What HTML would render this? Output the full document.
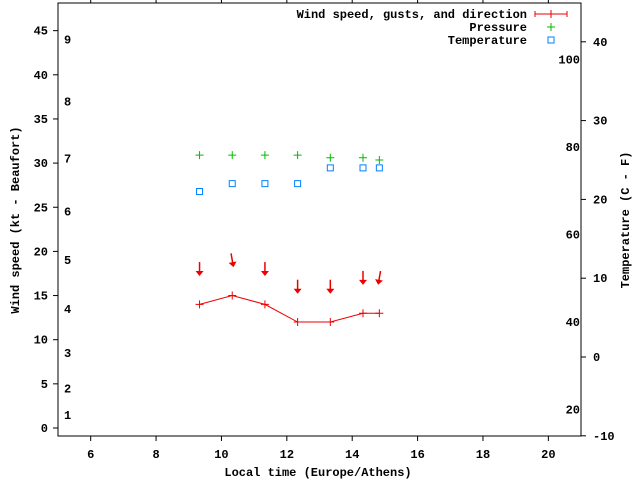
<!DOCTYPE html>
<html><head><meta charset="utf-8">
<style>
body{margin:0;background:#fff}
svg{display:block}
text{font-family:"Liberation Mono",monospace;font-size:12px;font-weight:bold;fill:#000}
</style></head>
<body>
<svg id="c" width="640" height="480" xmlns="http://www.w3.org/2000/svg">
<rect x="58" y="3" width="523" height="433" fill="none" stroke="#000"/>
<g id="ax"></g>
<g id="marks"></g>
<text x="318" y="476" text-anchor="middle">Local time (Europe/Athens)</text>
<text transform="translate(19,220) rotate(-90)" text-anchor="middle">Wind speed (kt - Beaufort)</text>
<text transform="translate(629,220) rotate(-90)" text-anchor="middle">Temperature (C - F)</text>
<g>
<text x="527" y="18" text-anchor="end">Wind speed, gusts, and direction</text>
<path d="M535 14H567M535 11V17M567 11V17M551 10V18" stroke="#e00" fill="none"/>
<text x="527" y="31" text-anchor="end">Pressure</text>
<path d="M547 27H555M551 23V31" stroke="#0b0"/>
<text x="527" y="44" text-anchor="end">Temperature</text>
<rect x="548" y="37" width="6" height="6" fill="none" stroke="#0080ff"/>
</g>
</svg>
<script>
const times=[9.33,10.33,11.33,12.33,13.33,14.33,14.83];
const wind=[14,15,14,12,12,13,13];
const gusts=[18,19,18,16,16,17,17];
const dirs=[0,-10,0,0,0,0,10];
const pressure=[30.9,30.9,30.9,30.9,30.6,30.6,30.35];
const tempC=[21,22,22,22,24,24,24];
const xTicks=[6,8,10,12,14,16,18,20];
const yTicks=[0,5,10,15,20,25,30,35,40,45];
const cTicks=[-10,0,10,20,30,40];
const fTicks=[20,40,60,80,100];
const bft=[1,2,3,4,5,6,7,8,9];
const bftKt=[1.5,4.5,8.5,13.5,19,24.5,30.5,37,44];
const NS='http://www.w3.org/2000/svg';
const X=v=>58+(v-5)*32.69;
const Y=v=>428-v*8.83;
const YC=c=>357-c*7.88;
const YF=f=>YC((f-32)*5/9);
const ax=document.getElementById('ax'),mk=document.getElementById('marks');
function el(p,t,a,txt){const e=document.createElementNS(NS,t);for(const k in a)e.setAttribute(k,a[k]);if(txt!==undefined)e.textContent=txt;p.appendChild(e);return e;}
xTicks.forEach(v=>{
 const t=el(ax,'path',{d:`M${X(v)} 436V441M${X(v)} 3V-2`,stroke:'#000'});
 
 
 const l=el(ax,'text',{x:X(v),y:458,'text-anchor':'middle'},v);
 
 
});
yTicks.forEach(v=>{
 const t=el(ax,'path',{d:`M58 ${Y(v)}H53`,stroke:'#000'});
 
 
 const l=el(ax,'text',{x:48,y:Y(v)+4,'text-anchor':'end'},v);
 
 
});
cTicks.forEach(v=>{
 const t=el(ax,'path',{d:`M581 ${YC(v)}H586`,stroke:'#000'});
 
 
 const l=el(ax,'text',{x:593,y:YC(v)+4},v);
 
 
});
fTicks.forEach(v=>{
 const l=el(ax,'text',{x:580,y:YF(v)+4,'text-anchor':'end'},v);
 
 
});
bft.forEach((v,i)=>{
 const l=el(ax,'text',{x:64,y:Y(bftKt[i])+4},v);
 
 
});
const line=el(mk,'polyline',{points:times.map((t,i)=>X(t)+','+Y(wind[i])).join(' '),fill:'none',stroke:'#e00'});


times.forEach((t,i)=>{
 const x=X(t);
 const w=el(mk,'path',{d:`M${x-4} ${Y(wind[i])}H${x+4}M${x} ${Y(wind[i])-4}V${Y(wind[i])+4}`,stroke:'#e00'});
 
 
 const gy=Y(gusts[i]);
 const g=el(mk,'g',{transform:`translate(${x},${gy}) rotate(${dirs[i]})`});
 
 
 el(g,'path',{d:'M0 -7V6',stroke:'#e00','stroke-width':1.5});
 el(g,'path',{d:'M-4 2L4 2L0 7Z',fill:'#e00'});
 const p=el(mk,'path',{d:`M${x-4} ${Y(pressure[i])}H${x+4}M${x} ${Y(pressure[i])-4}V${Y(pressure[i])+4}`,stroke:'#0b0'});
 
 
 const s=el(mk,'rect',{x:x-3,y:YC(tempC[i])-3,width:6,height:6,fill:'none',stroke:'#0080ff'});
 
 
});
</script>
</body></html>
